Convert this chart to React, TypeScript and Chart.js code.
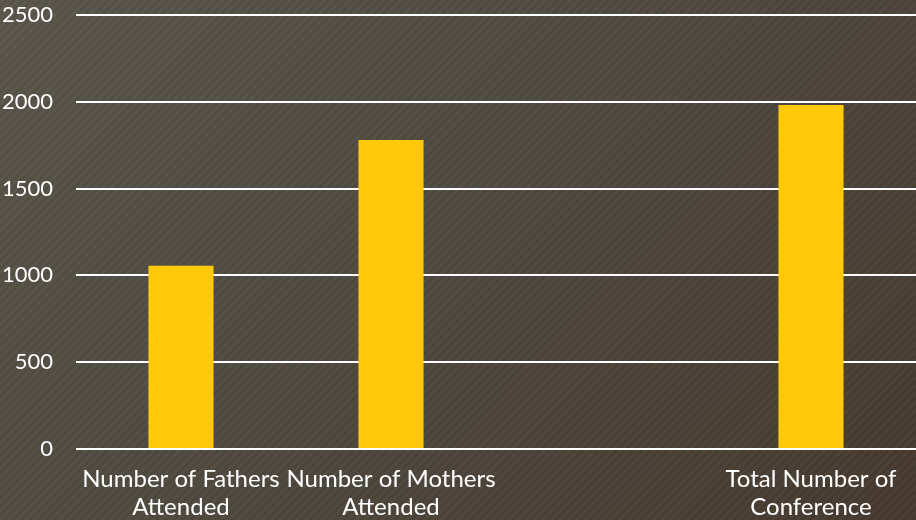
import React, { useEffect, useRef } from "react";
import { Chart, registerables } from "chart.js";

Chart.register(...registerables);

const categories: (string | string[])[] = [
  ["Number of Fathers", "Attended"],
  ["Number of Mothers", "Attended"],
  "",
  ["Total Number of", "Conference"],
];
const values: (number | null)[] = [1055, 1780, null, 1982];
const yTicks = { min: 0, max: 2500, step: 500 };

export default function App() {
  const ref = useRef<HTMLCanvasElement | null>(null);
  useEffect(() => {
    document.body.style.margin = "0";
    const ctx = ref.current!;
    const font = { family: "Lato", size: 24, lineHeight: 1.17 };
    const chart = new Chart(ctx, {
      type: "bar",
      data: {
        labels: categories,
        datasets: [
          {
            data: values,
            backgroundColor: "#FFC90A",
            borderWidth: 0,
            categoryPercentage: 1,
            barPercentage: 0.31,
          },
        ],
      },
      options: {
        animation: false,
        responsive: false,
        maintainAspectRatio: false,
        layout: { padding: { left: 0, top: 15, right: 0, bottom: 0 } },
        plugins: { legend: { display: false }, tooltip: { enabled: false } },
        scales: {
          x: {
            grid: { display: false },
            border: { display: false },
            ticks: { color: "#ffffff", font, maxRotation: 0, autoSkip: false, padding: 8 },
            afterFit: (s: any) => {
              s.height = 71;
              s.paddingLeft = 0;
              s.paddingRight = 0;
            },
          },
          y: {
            min: yTicks.min,
            max: yTicks.max,
            grid: { color: "#ffffff", lineWidth: 2, drawTicks: false },
            border: { display: false },
            ticks: {
              stepSize: yTicks.step,
              color: "#ffffff",
              font: { family: "Lato", size: 22, lineHeight: 1.2 },
              padding: 23,
              callback: (v: any) => String(v),
            },
            afterFit: (s: any) => {
              s.width = 76;
              s.paddingTop = 0;
              s.paddingBottom = 0;
            },
          },
        },
      },
    });
    return () => chart.destroy();
  }, []);
  return (
    <div
      style={{
        position: "fixed",
        left: 0,
        top: 0,
        width: 916,
        height: 520,
        background:
          "repeating-linear-gradient(135deg, rgba(255,255,255,0.025) 0px, rgba(255,255,255,0.025) 3px, rgba(0,0,0,0.025) 3px, rgba(0,0,0,0.025) 6px), linear-gradient(135deg, #59554a 0%, #4e483e 50%, #46392f 100%)",
      }}
    >
      <canvas ref={ref} width={916} height={520} style={{ width: 916, height: 520, display: "block" }} />
    </div>
  );
}
